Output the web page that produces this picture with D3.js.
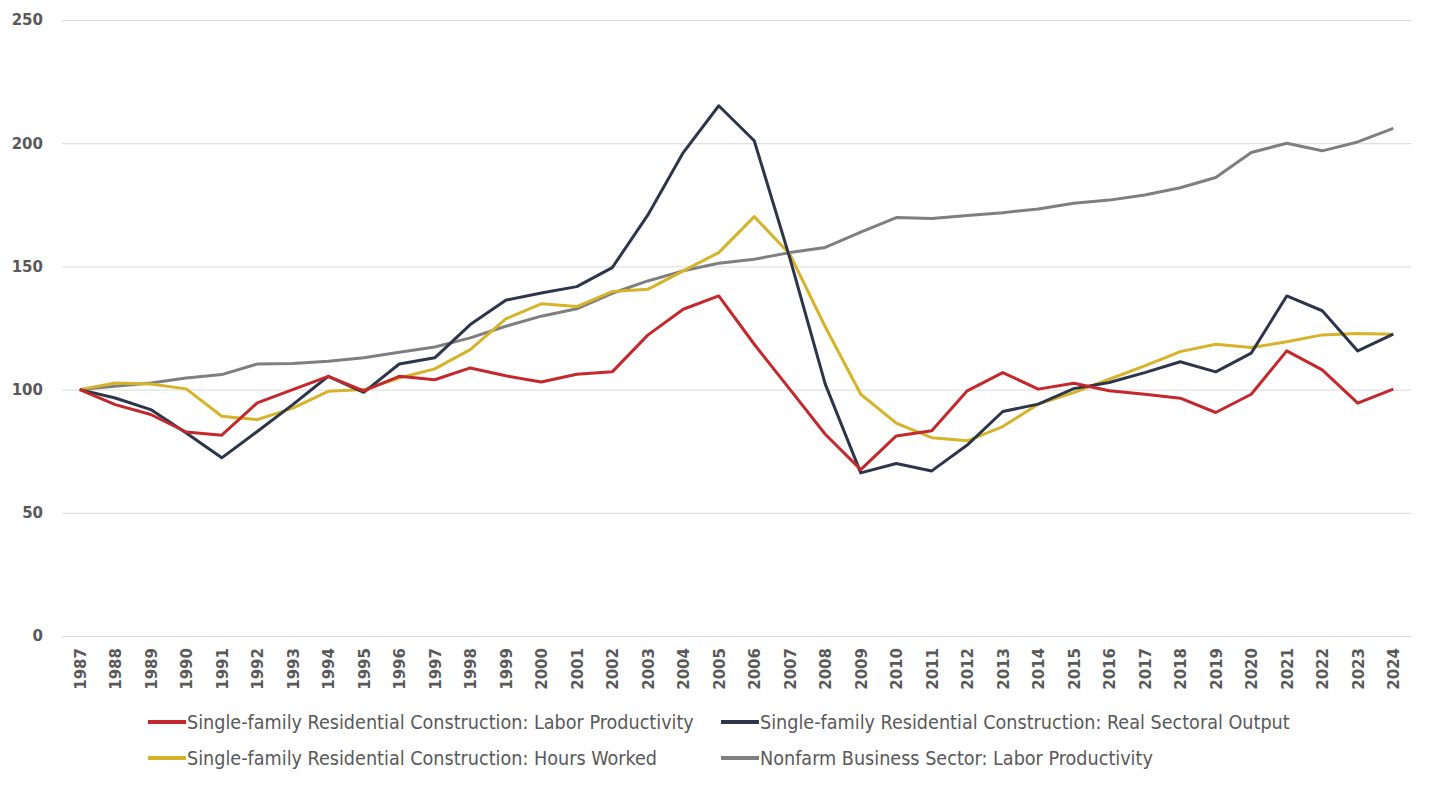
<!DOCTYPE html>
<meta charset="utf-8">
<style>
body { margin: 0; background: #fff; }
.tick text { fill: #595959; font-family: "DejaVu Sans", sans-serif; font-weight: bold; }
.legend text { fill: #595959; font-family: "DejaVu Sans Condensed", "DejaVu Sans", sans-serif; font-size: 19.6px; }
</style>
<svg id="chart" width="1430" height="785"></svg>
<script src="https://cdn.jsdelivr.net/npm/d3@7"></script>
<script>

var years = d3.range(1987, 2025);

var laborProd = [100, 93.9, 89.9, 82.8, 81.5, 94.6, 100, 105.4, 99.5, 105.4, 104, 108.8, 105.6, 103.1,
  106.2, 107.2, 122.1, 132.6, 138, 118.4, 100.2, 81.9, 67.5, 81.2, 83.3, 99.5, 106.9, 100.2,
  102.6, 99.5, 98.1, 96.5, 90.7, 98.1, 115.7, 108, 94.5, 100.2];

var realOutput = [100, 96.6, 91.9, 82.4, 72.3, 83, 93.9, 105.4, 98.9, 110.4, 112.9, 126.4, 136.3, 139.2,
  141.8, 149.5, 170.8, 196.2, 215.2, 201, 153.5, 102.2, 66.2, 70, 67, 77.5, 91.1, 94.1,
  100.4, 102.9, 106.9, 111.3, 107.2, 114.8, 138, 132, 115.7, 122.5];

var hoursWorked = [100, 102.7, 102.3, 100.3, 89.2, 87.8, 92.5, 99.3, 100, 104.7, 108.4, 116.2, 128.7, 134.8,
  133.7, 139.8, 140.7, 148.2, 155.6, 170.2, 155, 125.5, 98.1, 86.4, 80.5, 79.2, 85, 94.1,
  98.8, 104.2, 109.6, 115.4, 118.4, 117.1, 119.4, 122.2, 122.8, 122.5];

var nonfarmProd = [100, 101.4, 102.7, 104.7, 106.1, 110.4, 110.6, 111.5, 112.9, 115.2, 117.3, 121, 125.7, 129.8,
  132.8, 139.1, 144.1, 148.2, 151.3, 152.9, 155.6, 157.7, 163.9, 169.8, 169.4, 170.7, 171.8, 173.3,
  175.6, 176.9, 179, 181.9, 186.1, 196.2, 200, 196.9, 200.5, 206];

var yTicks = [0, 50, 100, 150, 200, 250];

var series = [
  { name: "Single-family Residential Construction: Labor Productivity", values: laborProd, color: "#c4282d" },
  { name: "Single-family Residential Construction: Real Sectoral Output", values: realOutput, color: "#2d3649" },
  { name: "Single-family Residential Construction: Hours Worked", values: hoursWorked, color: "#d7b32a" },
  { name: "Nonfarm Business Sector: Labor Productivity", values: nonfarmProd, color: "#7f7f7f" }
];

var svg = d3.select("#chart");

var x = d3.scalePoint()
  .domain(years)
  .range([62, 1411])
  .padding(0.5);

var y = d3.scaleLinear()
  .domain([0, 250])
  .range([636, 20]);

// gridlines + y labels
var yAxis = svg.append("g")
  .attr("transform", "translate(62,0)")
  .call(d3.axisLeft(y).tickValues(yTicks).tickSize(-1349).tickPadding(19));
yAxis.select(".domain").remove();
yAxis.selectAll(".tick line").attr("stroke", "#d9d9d9").attr("stroke-width", 1);
yAxis.selectAll(".tick text").attr("font-size", 15);

// x axis labels, rotated
var xAxis = svg.append("g")
  .attr("transform", "translate(0,636)")
  .call(d3.axisBottom(x).tickSize(0).tickFormat(d3.format("d")));
xAxis.select(".domain").remove();
xAxis.selectAll(".tick text")
  .attr("font-size", 15)
  .attr("transform", "rotate(-90)")
  .attr("x", -12)
  .attr("y", 0)
  .attr("dy", "0.36em")
  .attr("text-anchor", "end");

var line = d3.line()
  .x(function (d, i) { return x(years[i]); })
  .y(function (d) { return y(d); });

// draw back-to-front so order matches reference
[3, 2, 1, 0].forEach(function (k) {
  svg.append("path")
    .datum(series[k].values)
    .attr("fill", "none")
    .attr("stroke", series[k].color)
    .attr("stroke-width", 3)
    .attr("stroke-linejoin", "round")
    .attr("d", line);
});

// legend
var legendPos = [[140, 722], [713, 722], [140, 758], [713, 758]];
var legend = svg.append("g").attr("class", "legend");
series.forEach(function (s, i) {
  var g = legend.append("g").attr("transform", "translate(" + legendPos[i][0] + "," + legendPos[i][1] + ")");
  g.append("line")
    .attr("x1", 8).attr("x2", 46)
    .attr("stroke", s.color).attr("stroke-width", 4);
  g.append("text")
    .attr("x", 47)
    .attr("dy", "0.36em")
    .text(s.name);
});

</script>
